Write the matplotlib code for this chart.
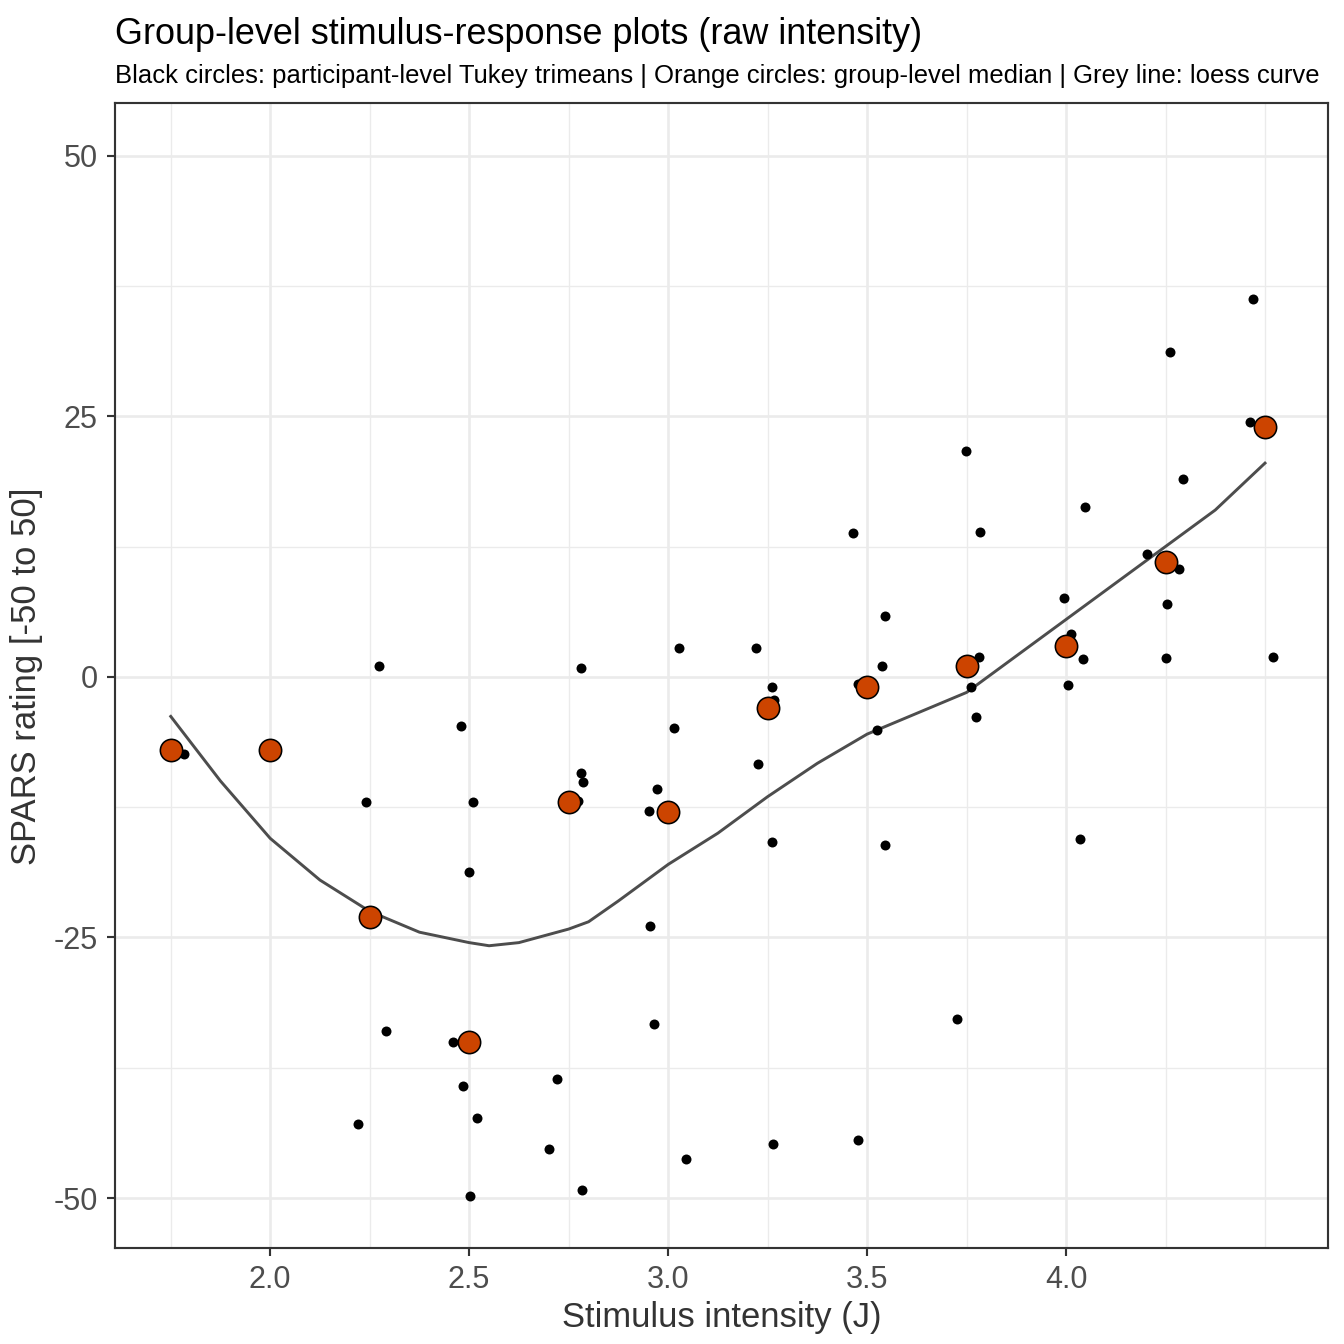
import numpy as np
import matplotlib.pyplot as plt
from matplotlib.ticker import FixedLocator

# participant-level trimeans
px = [1.784, 2.274, 2.24, 2.29, 2.22, 2.48, 2.50, 2.51, 2.46, 2.485, 2.52, 2.503,
      2.78, 2.78, 2.786, 2.774, 2.72, 2.70, 2.784,
      3.028, 3.015, 2.972, 2.952, 2.955, 2.965, 3.045,
      3.221, 3.261, 3.266, 3.226, 3.261, 3.264,
      3.465, 3.545, 3.538, 3.477, 3.525, 3.545, 3.477,
      3.749, 3.784, 3.781, 3.761, 3.774, 3.726,
      4.048, 3.995, 4.013, 4.043, 4.005, 4.035,
      4.47, 4.26, 4.462, 4.294, 4.203, 4.284, 4.254, 4.251, 4.52]
py = [-7.4, 1.0, -12, -34, -42.9, -4.7, -18.7, -12, -35, -39.3, -42.3, -49.8,
      0.8, -9.2, -10.1, -11.9, -38.6, -45.3, -49.2,
      2.8, -4.9, -10.8, -12.9, -23.9, -33.3, -46.3,
      2.8, -1.0, -2.2, -8.4, -15.8, -44.8,
      13.8, 5.8, 1.0, -0.7, -5.1, -16.1, -44.4,
      21.7, 13.9, 1.9, -1.0, -3.9, -32.8,
      16.3, 7.6, 4.1, 1.7, -0.8, -15.6,
      36.2, 31.2, 24.4, 19.0, 11.8, 10.3, 7.0, 1.8, 1.9]

# group-level medians
mx = [1.75, 2.0, 2.25, 2.5, 2.75, 3.0, 3.25, 3.5, 3.75, 4.0, 4.25, 4.5]
my = [-7, -7, -23, -35, -12, -13, -3, -1, 1, 3, 11, 24]

# loess curve
lx = [1.75, 1.875, 2.0, 2.125, 2.25, 2.375, 2.5, 2.55, 2.625, 2.75, 2.8, 2.875,
      3.0, 3.125, 3.25, 3.375, 3.5, 3.625, 3.75, 3.875, 4.0, 4.125, 4.25, 4.375, 4.5]
ly = [-3.8, -10, -15.5, -19.5, -22.5, -24.5, -25.5, -25.8, -25.5, -24.2, -23.5, -21.5,
      -18, -15, -11.5, -8.3, -5.5, -3.5, -1.5, 2, 5.5, 9, 12.5, 16, 20.5]

plt.rcParams['font.family'] = ['Liberation Sans', 'DejaVu Sans']
plt.rcParams['axes.unicode_minus'] = False
fig = plt.figure(figsize=(7, 7), dpi=192)
ax = fig.add_axes([0.0856, 0.0714, 0.9024, 0.8516])

ax.plot(lx, ly, color='#4d4d4d', lw=1.1, zorder=2)
ax.scatter(px, py, s=14, color='black', zorder=3, linewidths=0)
ax.scatter(mx, my, s=70, color='#cc4400', edgecolor='black', linewidths=0.6, zorder=4)

ax.set_xlim(1.61, 4.658)
ax.set_ylim(-54.8, 55)
ax.xaxis.set_major_locator(FixedLocator([2.0, 2.5, 3.0, 3.5, 4.0]))
ax.xaxis.set_minor_locator(FixedLocator([1.75, 2.25, 2.75, 3.25, 3.75, 4.25, 4.5]))
ax.yaxis.set_major_locator(FixedLocator([-50, -25, 0, 25, 50]))
ax.yaxis.set_minor_locator(FixedLocator([-37.5, -12.5, 12.5, 37.5]))
ax.set_xticklabels(['2.0', '2.5', '3.0', '3.5', '4.0'])
ax.grid(True, which='major', color='#ebebeb', lw=1.0)
ax.grid(True, which='minor', color='#ebebeb', lw=0.5)
ax.set_axisbelow(True)
ax.tick_params(which='major', length=3, color='#333333', labelsize=11.5, labelcolor='#4d4d4d')
ax.tick_params(which='minor', length=0)
for s in ax.spines.values():
    s.set_color('#333333')
    s.set_linewidth(0.8)

ax.set_xlabel('Stimulus intensity (J)', fontsize=13, color='#333333', labelpad=2)
ax.set_ylabel('SPARS rating [-50 to 50]', fontsize=13, color='#333333', labelpad=4)
fig.text(0.0856, 0.967, 'Group-level stimulus-response plots (raw intensity)', fontsize=13.5)
fig.text(0.0856, 0.938, 'Black circles: participant-level Tukey trimeans | Orange circles: '
         'group-level median | Grey line: loess curve', fontsize=9.6)

fig.savefig('out.png', dpi=192)
